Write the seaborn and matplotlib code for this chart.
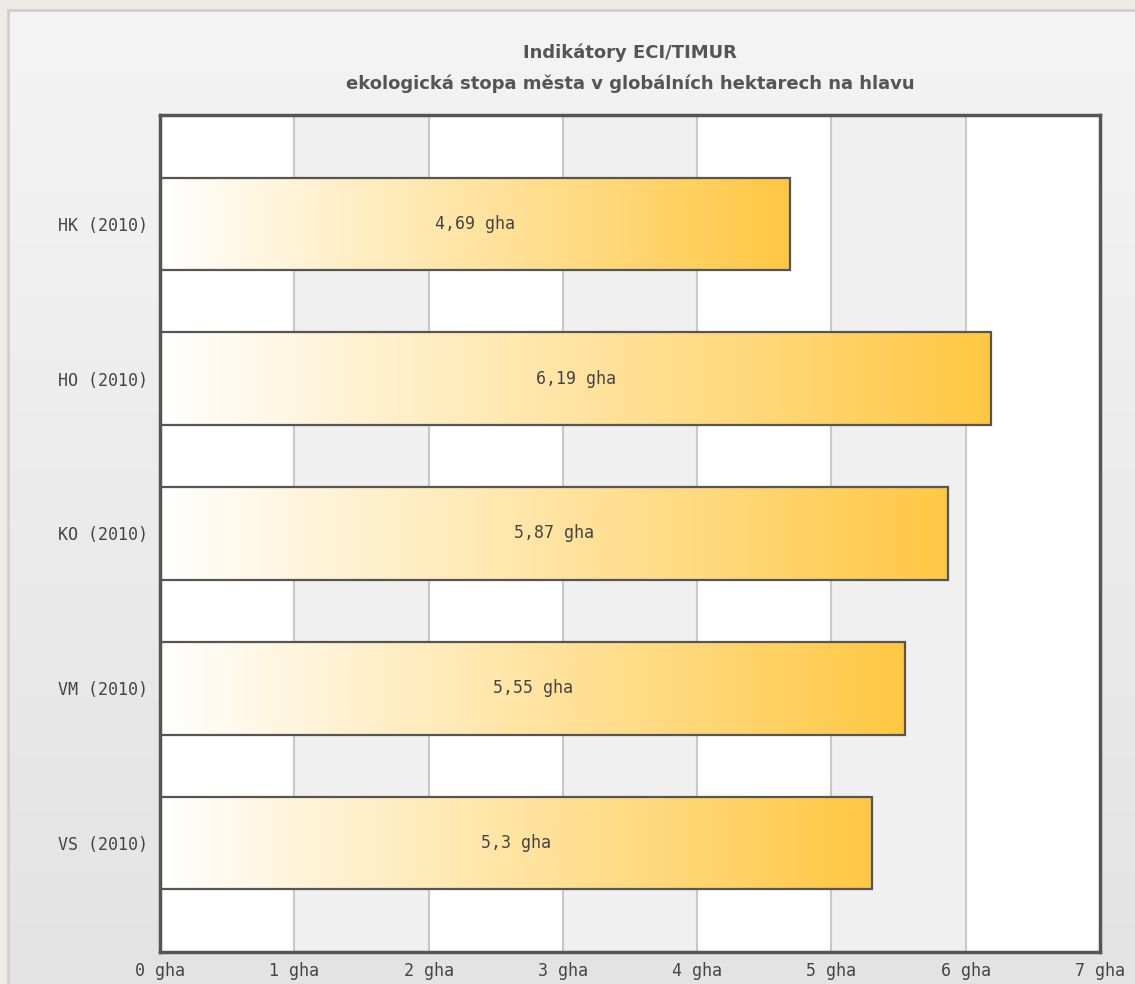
import numpy as np
import matplotlib
matplotlib.use("Agg")
import matplotlib.pyplot as plt
import seaborn as sns
import pandas as pd
from matplotlib.colors import LinearSegmentedColormap

categories = ["HK (2010)", "HO (2010)", "KO (2010)", "VM (2010)", "VS (2010)"]
values = [4.69, 6.19, 5.87, 5.55, 5.3]
value_labels = ["4,69 gha", "6,19 gha", "5,87 gha", "5,55 gha", "5,3 gha"]
x_ticks = [0, 1, 2, 3, 4, 5, 6, 7]
x_tick_labels = ["0 gha", "1 gha", "2 gha", "3 gha", "4 gha", "5 gha", "6 gha", "7 gha"]
title_lines = ["Indikátory ECI/TIMUR", "ekologická stopa města v globálních hektarech na hlavu"]

sns.set_theme(style="white")
plt.rcParams["font.family"] = ["DejaVu Sans"]
MONO = ["DejaVu Sans Mono", "DejaVu Sans"]
TXT = "#444444"

W, H = 1135, 984
fig = plt.figure(figsize=(W / 100, H / 100), dpi=100)
fig.patch.set_facecolor("#EEEBE5")

# panel background with vertical gradient
bg = fig.add_axes([8 / W, 0, 1 - 8 / W, 1 - 10 / H])
grad = np.linspace(0, 1, 256).reshape(-1, 1)
bg_cmap = LinearSegmentedColormap.from_list("bg", ["#F4F4F4", "#E3E3E3"])
bg.imshow(grad, aspect="auto", cmap=bg_cmap, extent=[0, 1, 0, 1], origin="upper")
bg.set_xlim(0, 1)
bg.set_ylim(0, 1)
bg.set_xticks([])
bg.set_yticks([])
for s in bg.spines.values():
    s.set_visible(False)
for side in ("left", "top"):
    bg.spines[side].set_visible(True)
    bg.spines[side].set_color("#CFCFCF")
    bg.spines[side].set_linewidth(2)

# title
fig.text(630 / W, 1 - 53 / H, title_lines[0], ha="center", va="center",
         fontsize=13, fontweight="bold", color="#555555")
fig.text(630 / W, 1 - 84 / H, title_lines[1], ha="center", va="center",
         fontsize=13, fontweight="bold", color="#555555")

# main axes
x0, x1, ytop, ybot = 160, 1100, 115, 952
ax = fig.add_axes([x0 / W, 1 - ybot / H, (x1 - x0) / W, (ybot - ytop) / H])
ax.set_facecolor("white")

df = pd.DataFrame({"category": categories, "value": values})
sns.barplot(data=df, x="value", y="category", orient="h", width=0.6, ax=ax,
            color="white", edgecolor="#555555", linewidth=1.6, zorder=3)
bar_patches = list(ax.patches)

# gradient fill for bars
bar_cmap = LinearSegmentedColormap.from_list("bar", ["#FFFFFF", "#FFC843"])
hgrad = np.linspace(0, 1, 256).reshape(1, -1)
for patch in bar_patches:
    bx, by = patch.get_x(), patch.get_y()
    bw, bh = patch.get_width(), patch.get_height()
    if bw <= 0:
        continue
    im = ax.imshow(hgrad, aspect="auto", cmap=bar_cmap,
                   extent=[bx, bx + bw, by + bh, by], zorder=2.5)
    im.set_clip_path(patch)
    patch.set_facecolor("none")

# alternating bands and gridlines
for i in range(len(x_ticks) - 1):
    if i % 2 == 1:
        ax.axvspan(x_ticks[i], x_ticks[i + 1], facecolor="#F0F0F0", zorder=0, lw=0)
for t in x_ticks[1:-1]:
    ax.axvline(t, color="#C8C8C8", lw=1.5, zorder=0.5)

# value labels
for i, (v, lab) in enumerate(zip(values, value_labels)):
    ax.text(v / 2, i, lab, ha="center", va="center", fontsize=12,
            family=MONO, color=TXT, zorder=4)

ax.set_xlim(0, 7)
ax.set_ylim(len(categories) - 1 + 0.705, -0.705)
ax.set_xticks(x_ticks)
ax.set_xticklabels(x_tick_labels)
ax.tick_params(axis="both", length=0)
ax.tick_params(axis="x", pad=7)
ax.tick_params(axis="y", pad=9)
for lab in ax.get_xticklabels() + ax.get_yticklabels():
    lab.set_fontsize(12)
    lab.set_family(MONO)
    lab.set_color(TXT)
ax.set_xlabel("")
ax.set_ylabel("")
for s in ax.spines.values():
    s.set_visible(True)
    s.set_color("#555555")
    s.set_linewidth(2.5)

fig.savefig("out.png", dpi=100, facecolor=fig.get_facecolor())
